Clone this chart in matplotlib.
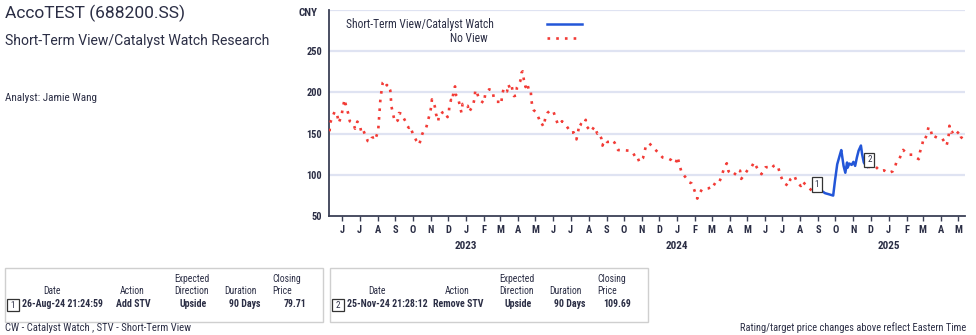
import matplotlib
matplotlib.use("Agg")
import matplotlib.pyplot as plt
from matplotlib.lines import Line2D
from matplotlib.patches import Rectangle
import pandas as pd

# ---------------- data ----------------
dates = [
    "2022-05-10", "2022-05-11", "2022-05-16", "2022-05-19", "2022-05-23", "2022-05-26", "2022-05-31",
    "2022-06-02", "2022-06-05", "2022-06-08", "2022-06-11", "2022-06-14", "2022-06-20", "2022-06-23",
    "2022-06-27", "2022-07-01", "2022-07-04", "2022-07-07", "2022-07-12", "2022-07-15", "2022-07-20",
    "2022-07-22", "2022-07-27", "2022-07-28", "2022-08-02", "2022-08-03", "2022-08-04", "2022-08-05",
    "2022-08-06", "2022-08-08", "2022-08-10", "2022-08-13", "2022-08-17", "2022-08-18", "2022-08-23",
    "2022-08-24", "2022-08-25", "2022-08-28", "2022-08-31", "2022-09-05", "2022-09-07", "2022-09-13",
    "2022-09-15", "2022-09-19", "2022-09-22", "2022-09-24", "2022-09-26", "2022-09-29", "2022-10-01",
    "2022-10-07", "2022-10-12", "2022-10-15", "2022-10-17", "2022-10-20", "2022-10-24", "2022-10-26",
    "2022-10-28", "2022-10-30", "2022-11-02", "2022-11-03", "2022-11-08", "2022-11-10", "2022-11-14",
    "2022-11-15", "2022-11-19", "2022-11-21", "2022-11-25", "2022-11-30", "2022-12-02", "2022-12-03",
    "2022-12-06", "2022-12-08", "2022-12-10", "2022-12-13", "2022-12-14", "2022-12-18", "2022-12-21",
    "2022-12-24", "2022-12-26", "2022-12-29",
    "2023-01-04", "2023-01-06", "2023-01-13", "2023-01-16", "2023-01-17", "2023-01-20", "2023-01-24",
    "2023-02-01", "2023-02-03", "2023-02-07", "2023-02-10", "2023-02-16", "2023-02-18", "2023-02-23",
    "2023-02-28", "2023-03-03", "2023-03-04", "2023-03-07", "2023-03-09", "2023-03-13", "2023-03-15",
    "2023-03-18", "2023-03-21", "2023-03-23", "2023-03-25", "2023-03-29", "2023-03-30", "2023-04-05",
    "2023-04-07", "2023-04-09", "2023-04-11", "2023-04-14", "2023-04-15", "2023-04-17", "2023-04-20",
    "2023-04-21", "2023-04-23", "2023-04-24", "2023-04-26", "2023-04-28", "2023-05-02", "2023-05-07",
    "2023-05-10", "2023-05-12", "2023-05-15", "2023-05-18", "2023-05-22", "2023-05-27", "2023-06-01",
    "2023-06-05", "2023-06-09", "2023-06-12", "2023-06-16", "2023-06-22", "2023-06-28", "2023-07-01",
    "2023-07-06", "2023-07-11", "2023-07-14", "2023-07-16", "2023-07-20", "2023-07-23", "2023-07-27",
    "2023-07-29", "2023-08-05", "2023-08-11", "2023-08-12", "2023-08-16", "2023-08-18", "2023-08-23",
    "2023-08-25", "2023-08-26", "2023-08-31", "2023-09-02", "2023-09-07", "2023-09-09", "2023-09-15",
    "2023-09-21", "2023-09-27", "2023-10-10", "2023-10-16", "2023-10-23", "2023-10-25", "2023-10-28",
    "2023-10-30", "2023-11-03", "2023-11-05", "2023-11-08", "2023-11-14", "2023-11-23", "2023-11-30",
    "2023-12-07", "2023-12-14", "2023-12-18", "2023-12-22", "2023-12-28", "2023-12-30",
    "2024-01-02", "2024-01-05", "2024-01-09", "2024-01-16", "2024-01-22", "2024-01-26", "2024-01-28",
    "2024-02-01", "2024-02-05", "2024-02-08", "2024-02-13", "2024-02-24", "2024-03-01", "2024-03-03",
    "2024-03-08", "2024-03-13", "2024-03-18", "2024-03-22", "2024-03-27", "2024-03-30", "2024-04-08",
    "2024-04-13", "2024-04-14", "2024-04-19", "2024-04-21", "2024-04-25", "2024-05-02", "2024-05-08",
    "2024-05-11", "2024-05-13", "2024-05-19", "2024-05-26", "2024-05-29", "2024-06-02", "2024-06-08",
    "2024-06-12", "2024-06-16", "2024-06-21", "2024-06-24", "2024-06-28", "2024-07-03", "2024-07-09",
    "2024-07-11", "2024-07-15", "2024-07-22", "2024-07-26", "2024-08-02", "2024-08-05", "2024-08-09",
    "2024-08-15", "2024-08-24", "2024-08-26",
    "2024-09-03", "2024-09-07", "2024-09-13", "2024-09-19", "2024-09-27", "2024-09-30", "2024-10-04",
    "2024-10-09", "2024-10-11", "2024-10-15", "2024-10-18", "2024-10-21", "2024-10-22", "2024-10-25",
    "2024-10-29", "2024-11-01", "2024-11-04", "2024-11-07", "2024-11-10", "2024-11-14", "2024-11-16",
    "2024-11-19", "2024-11-23", "2024-11-25",
    "2024-11-30", "2024-12-10", "2024-12-17", "2024-12-24", "2024-12-31",
    "2025-01-08", "2025-01-12", "2025-01-15", "2025-01-20", "2025-01-24", "2025-01-26", "2025-02-04",
    "2025-02-11", "2025-02-15", "2025-02-22", "2025-02-24", "2025-02-28", "2025-03-02", "2025-03-04",
    "2025-03-08", "2025-03-11", "2025-03-15", "2025-03-18", "2025-03-21", "2025-03-27", "2025-03-31",
    "2025-04-04", "2025-04-11", "2025-04-13", "2025-04-15", "2025-04-16", "2025-04-19", "2025-04-21",
    "2025-04-26", "2025-04-29", "2025-05-03", "2025-05-06", "2025-05-13",
]
prices = [
    152.8, 163.0, 172.0, 177.0, 173.0, 163.0, 173.0,
    182.0, 191.5, 182.0, 175.0, 165.0, 162.6, 156.0,
    164.6, 161.0, 151.6, 154.5, 146.0, 141.0, 140.0,
    144.7, 146.0, 143.0, 153.0, 163.0, 173.0, 183.0,
    192.7, 202.4, 212.0, 214.0, 208.5, 210.0, 202.4,
    192.7, 183.0, 173.0, 164.0, 166.0, 175.0, 174.0,
    169.0, 164.0, 159.0, 157.0, 159.0, 153.7, 150.0,
    141.5, 136.6, 144.0, 148.8, 154.0, 157.0, 162.0,
    168.0, 173.0, 183.0, 191.5, 183.0, 174.0, 165.0,
    173.0, 174.0, 175.6, 177.0, 170.0, 173.0, 182.0,
    191.0, 189.4, 199.0, 207.3, 197.6, 194.0, 185.0,
    175.6, 186.0, 183.0,
    183.7, 176.0, 184.0, 193.5, 203.0, 199.6, 191.0,
    187.0, 197.0, 201.6, 203.7, 202.4, 193.0, 188.6,
    188.6, 185.8, 195.0, 204.5, 200.8, 201.2, 209.8,
    204.9, 208.5, 198.8, 195.5, 196.3, 206.0, 214.0,
    224.0, 225.6, 215.4, 206.5, 211.0, 211.0, 201.6,
    202.4, 201.2, 191.0, 181.7, 178.5, 176.0, 168.3,
    161.8, 162.2, 158.5, 168.3, 175.2, 178.5, 177.2,
    168.7, 161.0, 161.0, 165.0, 161.0, 154.9, 150.8,
    151.6, 143.0, 152.8, 162.6, 160.6, 159.8, 166.7,
    158.5, 152.4, 158.5, 157.3, 150.0, 151.2, 144.3,
    135.4, 137.4, 142.3, 139.8, 140.2, 142.3, 139.0,
    130.0, 130.0, 129.3, 127.6, 119.0, 120.3, 115.4,
    117.9, 120.3, 125.2, 135.0, 138.2, 131.4, 126.5,
    121.0, 119.8, 119.4, 117.8, 113.7, 115.0,
    121.9, 112.4, 102.5, 96.7, 90.9, 89.7, 87.2,
    79.0, 71.1, 76.4, 82.3, 83.5, 85.2, 89.7,
    87.6, 89.7, 98.0, 107.5, 114.0, 104.2, 99.2,
    103.7, 106.6, 105.0, 95.0, 98.8, 105.8, 108.7,
    112.4, 115.3, 107.5, 100.8, 105.0, 109.1, 109.5,
    107.5, 110.8, 112.0, 108.7, 99.2, 90.5, 87.6,
    86.4, 94.7, 98.8, 91.4, 86.4, 92.2, 88.9,
    84.7, 79.0, 79.71,
    82.0, 80.5, 77.7, 76.5, 74.8, 92.2, 112.8,
    125.2, 130.0, 110.8, 102.5, 114.9, 108.7, 113.7,
    112.0, 115.7, 110.8, 121.0, 129.3, 135.5, 125.2,
    114.9, 110.8, 109.69,
    109.5, 109.5, 104.6, 105.4, 102.1,
    104.2, 109.5, 117.0, 119.9, 128.1, 130.2, 124.4,
    124.4, 121.9, 119.0, 127.3, 136.8, 143.0, 141.7,
    148.8, 158.3, 153.3, 145.0, 146.7, 144.6, 145.0,
    143.8, 135.5, 140.5, 149.2, 159.5, 151.2, 151.7,
    154.1, 150.0, 152.9, 145.9, 140.9,
]

stv_start = "2024-08-26"
stv_end = "2024-11-25"

events_no = ["1", "2"]
events_date = ["26-Aug-24 21:24:59", "25-Nov-24 21:28:12"]
events_day = ["2024-08-26", "2024-11-25"]
events_action = ["Add STV", "Remove STV"]
events_dir = ["Upside", "Upside"]
events_dur = ["90 Days", "90 Days"]
events_price = [79.71, 109.69]

y_ticks = [50, 100, 150, 200, 250, 300]
years = ["2023", "2024", "2025"]

# ---------------- styling ----------------
W, H = 976, 335
TXT = "#2b2e45"
GRID = "#dfe3f2"
SPINE = "#3b4056"
RED = "#f23b36"
BLUE = "#2356d8"
NARROW = ["Liberation Sans Narrow", "Roboto Condensed", "Roboto", "DejaVu Sans"]
REG = ["Roboto", "DejaVu Sans"]

plt.rcParams["font.family"] = NARROW

s = pd.Series(prices, index=pd.to_datetime(dates))
red1 = s[s.index <= pd.Timestamp(stv_start)]
blue = s[(s.index >= pd.Timestamp(stv_start)) & (s.index <= pd.Timestamp(stv_end))]
red2 = s[s.index >= pd.Timestamp(stv_end)]

fig = plt.figure(figsize=(W / 100, H / 100), dpi=100)
fig.patch.set_facecolor("white")


def fx(px):
    return px / W


def fy(py):
    return 1 - py / H


ax = fig.add_axes([fx(329), fy(216), (965 - 329) / W, (216 - 10) / H])

red_style = dict(color=RED, lw=1.9, linestyle=(0, (1, 2.3)), dash_capstyle="butt", zorder=3)
ax.plot(red1.index, red1.values, **red_style)
ax.plot(red2.index, red2.values, **red_style)
ax.plot(blue.index, blue.values, color=BLUE, lw=1.8, zorder=4, solid_joinstyle="round")

ax.set_xlim(pd.Timestamp("2022-05-09"), pd.Timestamp("2025-05-13"))
ax.set_ylim(50, 300)

ax.set_yticks(y_ticks)
ax.set_yticklabels([str(v) if v < 300 else "" for v in y_ticks])
for v in y_ticks[1:]:
    ax.axhline(v, color=GRID, lw=1.6, zorder=1)

months = pd.date_range("2022-06-01", "2025-05-01", freq="MS")
ax.set_xticks(months)
ax.set_xticklabels([m.strftime("%b")[0] for m in months])

for sp in ["top", "right"]:
    ax.spines[sp].set_visible(False)
for sp in ["left", "bottom"]:
    ax.spines[sp].set_color(SPINE)
    ax.spines[sp].set_linewidth(1.3)

ax.tick_params(axis="x", length=3.6, width=1, color=SPINE, pad=3, labelsize=7.5, labelcolor=TXT)
ax.tick_params(axis="y", length=0, pad=5, labelsize=7.5, labelcolor=TXT)
for lab in ax.get_xticklabels() + ax.get_yticklabels():
    lab.set_fontweight("bold")

for yr in years:
    ax.text(pd.Timestamp(f"{yr}-01-01"), -0.146, yr, transform=ax.get_xaxis_transform(),
            ha="center", va="center", fontsize=8, fontweight="bold", color=TXT)

ax.text(-0.018, 0.985, "CNY", transform=ax.transAxes, ha="right", va="center",
        fontsize=8, fontweight="bold", color=TXT)

# legend (manual, right-aligned labels)
ax.text(0.2594, 0.932, "Short-Term View/Catalyst Watch", transform=ax.transAxes,
        ha="right", va="center", fontsize=8.3, color=TXT)
ax.text(0.250, 0.864, "No View", transform=ax.transAxes,
        ha="right", va="center", fontsize=8.3, color=TXT)
ax.add_line(Line2D([0.3423, 0.3973], [0.9335, 0.9335], transform=ax.transAxes,
                   color=BLUE, lw=1.8))
ax.add_line(Line2D([0.3428, 0.3960], [0.864, 0.864], transform=ax.transAxes,
                   **red_style))

# event markers
for no, d, p in zip(events_no, events_day, events_price):
    ax.annotate(no, xy=(pd.Timestamp(d), p), xytext=(1.5, 5), textcoords="offset points",
                ha="center", va="center", fontsize=6.5, color=TXT, zorder=6,
                bbox=dict(boxstyle="square,pad=0.3", fc="white", ec="#333333", lw=0.9))

# ---------------- header text ----------------
fig.text(fx(5), fy(13), "AccoTEST (688200.SS)", ha="left", va="center",
         fontsize=12.5, color=TXT, family=REG)
fig.text(fx(5), fy(41), "Short-Term View/Catalyst Watch Research", ha="left", va="center",
         fontsize=10.1, color=TXT, family=REG)
fig.text(fx(5), fy(98), "Analyst: Jamie Wang", ha="left", va="center",
         fontsize=8, color=TXT)

# ---------------- event tables ----------------
for i in range(len(events_no)):
    ox = i * 325
    fig.patches.append(Rectangle((fx(5 + ox), fy(322)), (318) / W, (54) / H,
                                 transform=fig.transFigure, fill=False,
                                 ec="#cfcfcf", lw=1))
    hs = 6.9
    fig.text(fx(52 + ox), fy(291), "Date", ha="center", va="center", fontsize=hs, color=TXT)
    fig.text(fx(132 + ox), fy(291), "Action", ha="center", va="center", fontsize=hs, color=TXT)
    fig.text(fx(174 + ox), fy(279), "Expected", ha="left", va="center", fontsize=hs, color=TXT)
    fig.text(fx(174 + ox), fy(291), "Direction", ha="left", va="center", fontsize=hs, color=TXT)
    fig.text(fx(240 + ox), fy(291), "Duration", ha="center", va="center", fontsize=hs, color=TXT)
    fig.text(fx(272 + ox), fy(279), "Closing", ha="left", va="center", fontsize=hs, color=TXT)
    fig.text(fx(272 + ox), fy(291), "Price", ha="left", va="center", fontsize=hs, color=TXT)

    fig.patches.append(Rectangle((fx(7 + ox), fy(311)), 12 / W, 12 / H,
                                 transform=fig.transFigure, fill=False,
                                 ec="#333333", lw=0.9))
    fig.text(fx(13 + ox), fy(305), events_no[i], ha="center", va="center",
             fontsize=6.5, color=TXT)
    vs = 7.1
    fig.text(fx(22 + ox), fy(304), events_date[i], ha="left", va="center",
             fontsize=vs, fontweight="bold", color=TXT)
    fig.text(fx(133 + ox), fy(304), events_action[i], ha="center", va="center",
             fontsize=vs, fontweight="bold", color=TXT)
    fig.text(fx(207 + ox), fy(304), events_dir[i], ha="right", va="center",
             fontsize=vs, fontweight="bold", color=TXT)
    fig.text(fx(260 + ox), fy(304), events_dur[i], ha="right", va="center",
             fontsize=vs, fontweight="bold", color=TXT)
    fig.text(fx(306 + ox), fy(304), f"{events_price[i]:.2f}", ha="right", va="center",
             fontsize=vs, fontweight="bold", color=TXT)

fig.text(fx(5), fy(328), "CW - Catalyst Watch , STV - Short-Term View", ha="left",
         va="center", fontsize=7.7, color=TXT)
fig.text(fx(966), fy(328), "Rating/target price changes above reflect Eastern Time",
         ha="right", va="center", fontsize=7.5, color=TXT)

fig.savefig("out.png", dpi=100, facecolor="white")
